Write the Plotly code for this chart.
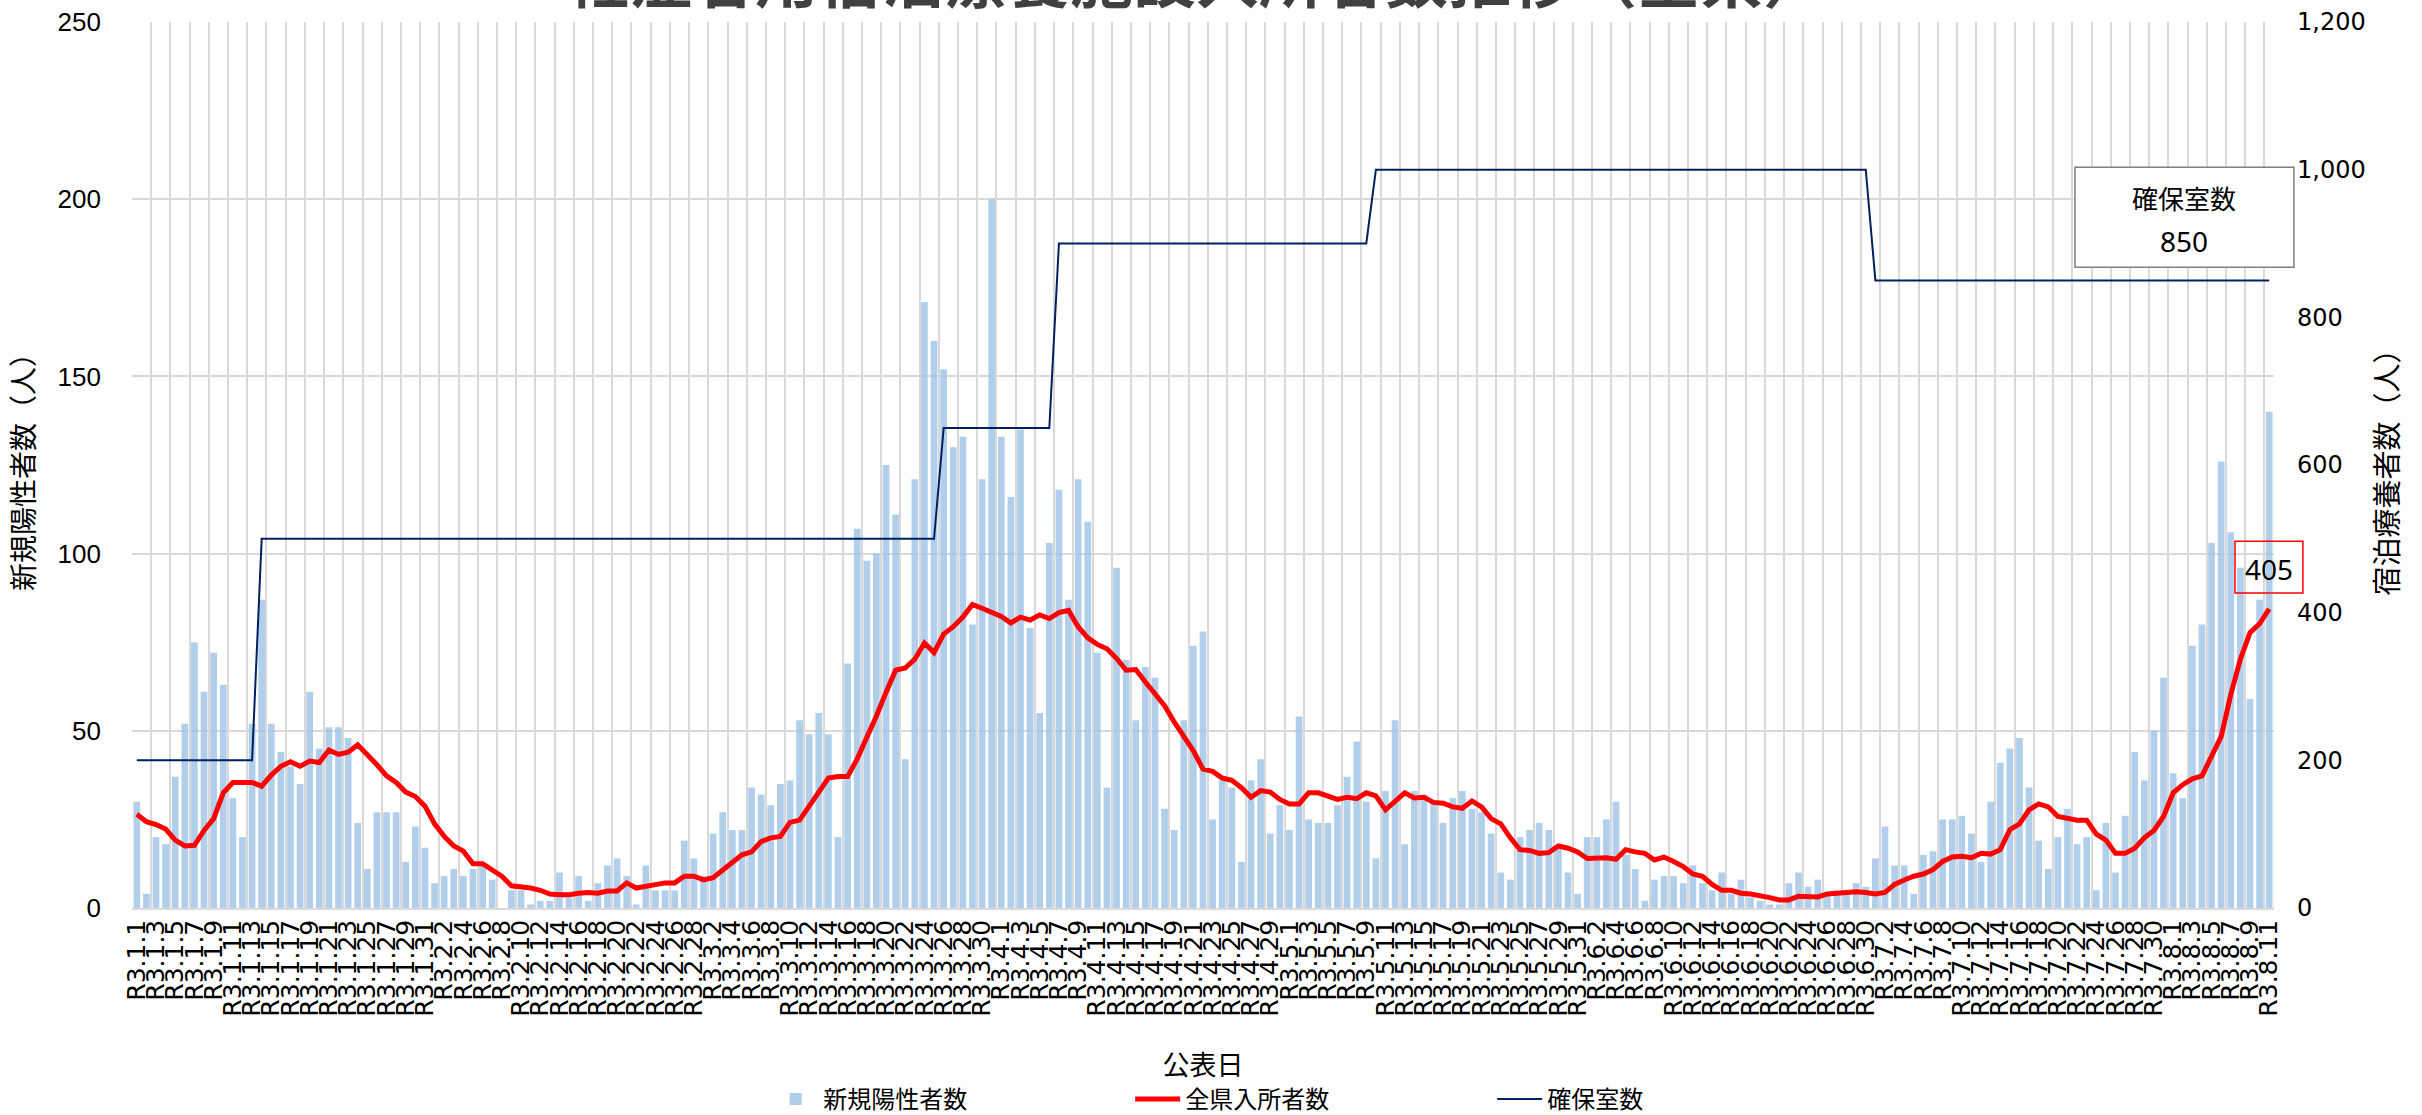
import datetime
import plotly.graph_objects as go

# ---------------- data ----------------
start = datetime.date(2021, 1, 1)
n_days = 223
categories = [f"R3.{(start + datetime.timedelta(days=i)).month}.{(start + datetime.timedelta(days=i)).day}"
              for i in range(n_days)]
tick_labels = categories[::2]

new_cases_jan = [30, 4, 20, 18, 37, 52, 75, 61, 72, 63, 31, 20, 52, 87, 52, 44, 40, 35, 61, 45,
                 51, 51, 48, 24, 11, 27, 27, 27, 13, 23, 17]
new_cases_feb = [7, 9, 11, 9, 11, 12, 8, 0, 5, 5, 1, 2, 2, 10, 3, 9, 2, 7, 12, 14,
                 9, 1, 12, 5, 5, 5, 19, 14]
new_cases_mar = [9, 21, 27, 22, 22, 34, 32, 29, 35, 36, 53, 49, 55, 49, 20, 69, 107, 98, 100, 125,
                 111, 42, 121, 171, 160, 152, 130, 133, 80, 121, 200]
new_cases_apr = [133, 116, 135, 79, 55, 103, 118, 87, 121, 109, 72, 34, 96, 70, 53, 68, 65, 28, 22, 53,
                 74, 78, 25, 36, 34, 13, 36, 42, 21, 29]
new_cases_may = [22, 54, 25, 24, 24, 29, 37, 47, 30, 14, 33, 53, 18, 33, 32, 30, 24, 31, 33, 28,
                 27, 21, 10, 8, 20, 22, 24, 22, 17, 10, 4]
new_cases_jun = [20, 20, 25, 30, 15, 11, 2, 8, 9, 9, 7, 12, 7, 5, 10, 4, 8, 3, 2, 1,
                 1, 7, 10, 6, 8, 4, 5, 4, 7, 6]
new_cases_jul = [14, 23, 12, 12, 4, 15, 16, 25, 25, 26, 21, 13, 30, 41, 45, 48, 34, 19, 11, 20,
                 28, 18, 20, 5, 24, 10, 26, 44, 36, 50, 65]
new_cases_aug = [38, 31, 74, 80, 103, 126, 106, 96, 59, 87, 140]
new_cases = (new_cases_jan + new_cases_feb + new_cases_mar + new_cases_apr +
             new_cases_may + new_cases_jun + new_cases_jul + new_cases_aug)

occupancy_jan = [127, 117, 113, 107, 92, 84, 85, 105, 121, 156, 170, 170, 170, 165, 180, 192, 198, 192, 199, 197,
                 214, 208, 211, 221, 208, 194, 179, 170, 157, 151, 138]
occupancy_feb = [114, 97, 84, 77, 60, 60, 52, 43, 30, 29, 27, 24, 19, 18, 18, 20, 21, 20, 23, 23,
                 34, 27, 29, 32, 34, 34, 43, 43]
occupancy_mar = [38, 41, 51, 62, 72, 76, 90, 95, 97, 116, 119, 138, 156, 176, 178, 178, 202, 230, 260, 292,
                 322, 325, 337, 359, 346, 371, 381, 394, 411, 406, 401]
occupancy_apr = [395, 386, 394, 390, 397, 392, 400, 403, 381, 366, 357, 351, 338, 322, 323, 306, 289, 274, 252, 232,
                 213, 188, 185, 176, 173, 163, 150, 159, 157, 147]
occupancy_may = [141, 141, 156, 156, 152, 147, 150, 148, 156, 152, 133, 145, 156, 149, 150, 143, 142, 137, 135, 145,
                 137, 121, 114, 95, 79, 78, 74, 75, 84, 81, 76]
occupancy_jun = [67, 68, 68, 66, 79, 76, 74, 65, 69, 63, 56, 46, 43, 32, 24, 24, 20, 19, 17, 14,
                 11, 11, 16, 16, 15, 19, 20, 20, 22, 21]
occupancy_jul = [19, 21, 32, 38, 43, 46, 52, 63, 69, 70, 68, 74, 73, 79, 106, 114, 133, 141, 137, 124,
                 121, 119, 119, 100, 92, 74, 74, 81, 95, 105, 124]
occupancy_aug = [156, 167, 175, 179, 206, 232, 289, 337, 373, 385, 405]
occupancy = (occupancy_jan + occupancy_feb + occupancy_mar + occupancy_apr +
             occupancy_may + occupancy_jun + occupancy_jul + occupancy_aug)

rooms = [200] * 13 + [500] * 71 + [650] * 12 + [900] * 33 + [1000] * 52 + [850] * 42

# ---------------- figure ----------------
FONT = "DejaVu Sans, Noto Sans CJK JP, sans-serif"
GRID = "#D9D9D9"

fig = go.Figure()
fig.add_trace(go.Bar(x=categories, y=new_cases, name="新規陽性者数",
                     marker=dict(color="rgba(157,195,230,0.8)", line=dict(width=0)),
                     yaxis="y"))
fig.add_trace(go.Scatter(x=categories, y=occupancy, name="全県入所者数", mode="lines",
                         line=dict(color="#FF0000", width=5), yaxis="y2"))
fig.add_trace(go.Scatter(x=categories, y=rooms, name="確保室数", mode="lines",
                         line=dict(color="#002060", width=2), yaxis="y2"))

fig.update_layout(
    width=2422, height=1115,
    template="none",
    paper_bgcolor="white", plot_bgcolor="white",
    font=dict(family=FONT, color="#000000", size=20),
    margin=dict(l=132, r=148, t=22, b=207, autoexpand=False),
    bargap=0.3,
    showlegend=True,
    legend=dict(orientation="h", x=0.297, xanchor="left", y=-0.216, yanchor="middle",
                font=dict(size=24), itemwidth=45, entrywidth=302, entrywidthmode="pixels"),
    xaxis=dict(type="category", tickmode="array", tickvals=tick_labels, ticktext=tick_labels,
               tickangle=-90, tickson="boundaries", showgrid=True, gridcolor=GRID, gridwidth=1.5,
               tickfont=dict(size=25, family=FONT), ticks="", showline=True, linecolor=GRID,
               linewidth=1.5, range=[-0.5, n_days - 0.5], automargin=False,
               title=dict(text="公表日", font=dict(size=27), standoff=40)),
    yaxis=dict(range=[0, 250], dtick=50, showgrid=True, gridcolor=GRID, gridwidth=1.5,
               zeroline=False, ticks="", tickfont=dict(size=26, family="Liberation Sans, " + FONT),
               ticklabelstandoff=30, automargin=False,
               title=dict(text="新規陽性者数（人）", font=dict(size=28), standoff=14)),
    yaxis2=dict(range=[0, 1200], dtick=200, tickformat=",", overlaying="y", side="right",
                showgrid=False, zeroline=False, ticks="", tickfont=dict(size=24),
                ticklabelstandoff=22, automargin=False,
                title=dict(text="宿泊療養者数（人）", font=dict(size=29), standoff=12)),
)

# chart title (cut at the top edge as in the original)
fig.add_annotation(text="<b>軽症者用宿泊療養施設入所者数推移（全県）</b>", xref="paper", yref="paper",
                   x=0.4965, y=1.054, xanchor="center", yanchor="middle", showarrow=False,
                   font=dict(size=63, color="#404040", family="Noto Sans CJK JP"))

# secured rooms box
fig.add_shape(type="rect", xref="paper", yref="paper", x0=0.9071, x1=1.0093, y0=0.7231, y1=0.836,
              line=dict(color="#7F7F7F", width=1.5), fillcolor="white", layer="above")
fig.add_annotation(text="確保室数", xref="paper", yref="paper", x=0.9582, y=0.8021,
                   xanchor="center", yanchor="middle",
                   showarrow=False, font=dict(size=26, family="Noto Sans CJK JP"))
fig.add_annotation(text=f"{rooms[-1]}", xref="paper", yref="paper", x=0.9582, y=0.7525,
                   xanchor="center", yanchor="middle",
                   showarrow=False, font=dict(size=28, family="Noto Sans, " + FONT))

# latest occupancy label
fig.add_shape(type="rect", xref="paper", yref="paper", x0=0.9818, x1=1.0135, y0=0.3554, y1=0.414,
              line=dict(color="#FF0000", width=1.5), fillcolor="rgba(0,0,0,0)", layer="above")
fig.add_annotation(text=f"{occupancy[-1]}", xref="paper", yref="paper", x=0.9977, y=0.3824,
                   xanchor="center", yanchor="middle",
                   showarrow=False, font=dict(size=28, family="Noto Sans, " + FONT))

fig.write_html("out.html", config={"displayModeBar": False},
               post_script="document.body.style.margin='0px';")
